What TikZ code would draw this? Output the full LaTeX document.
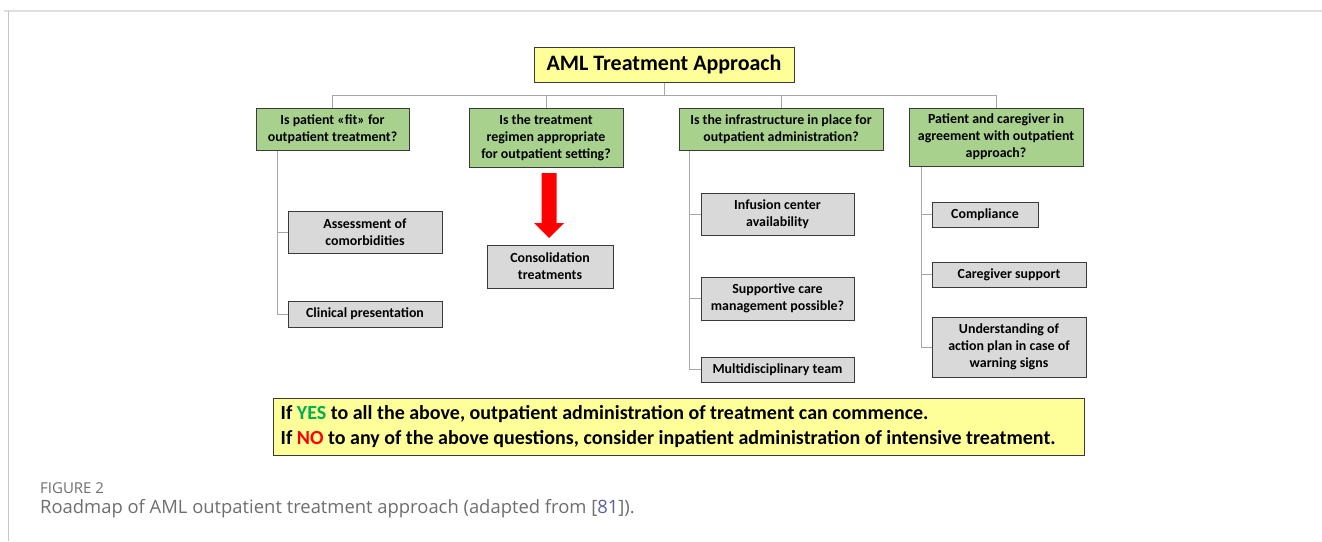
\documentclass[tikz,border=0pt]{standalone}
\usepackage{fontspec}
\setmainfont{Carlito}
\newfontfamily\capfont{Open Sans}
\definecolor{boxgreen}{HTML}{A9D18E}
\definecolor{boxgray}{HTML}{D9D9D9}
\definecolor{boxyellow}{HTML}{FFFF99}
\definecolor{bordercol}{HTML}{3A3A3A}
\definecolor{conncol}{HTML}{A6A6A6}
\definecolor{yesgreen}{HTML}{00B050}
\definecolor{nored}{HTML}{FF0000}
\definecolor{capgray}{HTML}{6E6E6E}
\definecolor{linkblue}{HTML}{5B5EA6}
\begin{document}
\begin{tikzpicture}[x=1pt,y=-1pt,
  basebox/.style={draw=bordercol,line width=1pt,inner sep=1pt,align=center,font=\fontsize{13.9}{17}\selectfont\bfseries},
  qbox/.style={basebox,fill=boxgreen},
  sbox/.style={basebox,fill=boxgray},
  conn/.style={draw=conncol,line width=1pt}]
\useasboundingbox (0,0) rectangle (1322,541);
% frame
\draw[gray!25,line width=1.5pt] (4,11) -- (1322,11);
\draw[gray!45,line width=0.7pt] (8,11) -- (8,541);
% title
\node[basebox,fill=boxyellow,minimum width=260pt,minimum height=35pt,font=\fontsize{22}{26}\selectfont\bfseries] (title) at (664,64.5) {AML Treatment Approach};
% questions
\node[qbox,minimum width=153pt,minimum height=42pt] (g1) at (332.5,129) {Is patient «fit» for\\outpatient treatment?};
\node[qbox,minimum width=154pt,minimum height=59pt] (g2) at (546,137.5) {Is the treatment\\regimen appropriate\\for outpatient setting?};
\node[qbox,minimum width=204pt,minimum height=42pt] (g3) at (781,129) {Is the infrastructure in place for\\outpatient administration?};
\node[qbox,minimum width=174pt,minimum height=58pt] (g4) at (996,137) {Patient and caregiver in\\agreement with outpatient\\approach?};
% sub boxes
\node[sbox,minimum width=154pt,minimum height=42pt] (a1) at (365,232) {Assessment of\\comorbidities};
\node[sbox,minimum width=154pt,minimum height=26pt] (a2) at (365,314) {Clinical presentation};
\node[sbox,minimum width=126pt,minimum height=43pt] (b1) at (550,266.5) {Consolidation\\treatments};
\node[sbox,minimum width=153pt,minimum height=42pt] (c1) at (777.5,214) {Infusion center\\availability};
\node[sbox,minimum width=153pt,minimum height=43pt] (c2) at (777.5,298.5) {Supportive care\\management possible?};
\node[sbox,minimum width=153pt,minimum height=25pt] (c3) at (777.5,369.5) {Multidisciplinary team};
\node[sbox,minimum width=106pt,minimum height=25pt] (d1) at (985,214.5) {Compliance};
\node[sbox,minimum width=154pt,minimum height=25pt] (d2) at (1009,274.5) {Caregiver support};
\node[sbox,minimum width=154pt,minimum height=60pt] (d3) at (1009,347) {Understanding of\\action plan in case of\\warning signs};
% top connectors
\draw[conn] (title.south) -- (title.south |- 0,95);
\draw[conn] (g1.north) |- (g4.north |- 0,95) -- (g4.north);
\draw[conn] (g2.north) -- (g2.north |- 0,95);
\draw[conn] (g3.north) -- (g3.north |- 0,95);
% trunks
\draw[conn] ([xshift=22pt]g1.south west) |- (a2.west);
\draw[conn] (a1.west) -- ++(-10,0);
\draw[conn] ([xshift=11pt]g3.south west) |- (c3.west);
\draw[conn] (c1.west) -- ++(-11,0);
\draw[conn] (c2.west) -- ++(-11,0);
\draw[conn] ([xshift=13pt]g4.south west) |- (d3.west);
\draw[conn] (d1.west) -- ++(-10,0);
\draw[conn] (d2.west) -- ++(-10,0);
% red block arrow (from g2 towards b1)
\coordinate (arrtop) at (549,173);
\fill[nored] ([xshift=-7.5pt]arrtop) -- ([xshift=7.5pt]arrtop) -- ++(0,50) -- ++(7.5,0) -- (549,238) -- (534,223) -- (541.5,223) -- cycle;
% bottom box
\node[draw=bordercol,line width=1pt,fill=boxyellow,minimum width=811pt,minimum height=57pt,inner sep=0pt] (bottom) at (678.5,426.5) {};
\node[anchor=west,align=left,inner sep=0pt,font=\fontsize{20}{25}\selectfont\bfseries] (btext) at ([xshift=8pt]bottom.west) {If \textcolor{yesgreen}{YES} to all the above, outpatient administration of treatment can commence.\\If \textcolor{nored}{NO} to any of the above questions, consider inpatient administration of intensive treatment.};
% caption
\node[anchor=west,inner sep=0pt,text=capgray,font=\capfont\fontsize{15}{18}\selectfont] (figlabel) at (40,488) {FIGURE 2};
\node[anchor=west,inner sep=0pt,text=capgray,font=\capfont\fontsize{18.4}{22}\selectfont] (caption) at (40,509) {Roadmap of AML outpatient treatment approach (adapted from [\textcolor{linkblue}{81}]).};
\end{tikzpicture}
\end{document}
